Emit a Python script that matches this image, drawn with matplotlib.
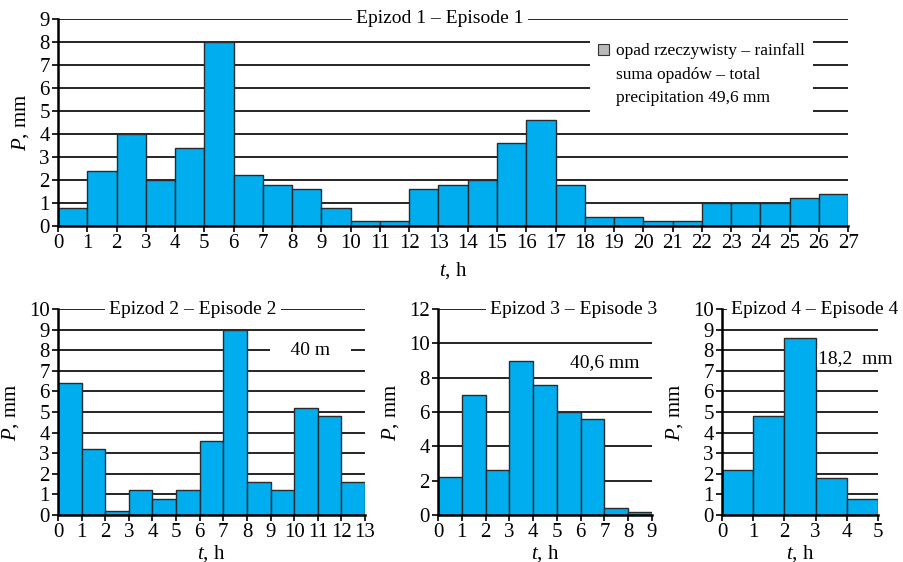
import matplotlib
matplotlib.use("Agg")
import matplotlib.pyplot as plt
from matplotlib.patches import Patch

plt.rcParams["font.family"] = ["Liberation Serif", "DejaVu Serif"]
plt.rcParams["mathtext.fontset"] = "custom"
plt.rcParams["mathtext.rm"] = "Liberation Serif"
plt.rcParams["mathtext.it"] = "Liberation Serif:italic"

# rainfall per hour, mm
ep1 = [0.8, 2.4, 4.0, 2.0, 3.4, 8.0, 2.2, 1.8, 1.6, 0.8, 0.2, 0.2, 1.6, 1.8,
       2.0, 3.6, 4.6, 1.8, 0.4, 0.4, 0.2, 0.2, 1.0, 1.0, 1.0, 1.2, 1.4]
ep2 = [6.4, 3.2, 0.2, 1.2, 0.8, 1.2, 3.6, 9.0, 1.6, 1.2, 5.2, 4.8, 1.6]
ep3 = [2.2, 7.0, 2.6, 9.0, 7.6, 6.0, 5.6, 0.4, 0.2]
ep4 = [2.2, 4.8, 8.6, 1.8, 0.8]

titles = ["Epizod 1 – Episode 1", "Epizod 2 – Episode 2",
          "Epizod 3 – Episode 3", "Epizod 4 – Episode 4"]
totals = ["precipitation 49,6 mm", "    40 m    ", "40,6 mm", "18,2  mm"]

BLUE = "#00aeef"
FS = 14
TICK_FS = 15

fig = plt.figure(figsize=(9.04, 5.62), dpi=100)


def panel(rect, values, ymax, ystep, title, title_x):
    ax = fig.add_axes(rect)
    n = len(values)
    ax.bar(range(n), values, width=1.0, align="edge", color=BLUE,
           edgecolor="#2a2a2a", linewidth=1.0, zorder=2)
    ax.set_xlim(0, n)
    ax.set_ylim(0, ymax)
    ax.set_xticks(range(n + 1))
    ax.set_yticks(range(0, ymax + 1, ystep))
    ax.set_axisbelow(True)
    ax.yaxis.grid(True, color="black", linewidth=1.2)
    for s in ("top", "right"):
        ax.spines[s].set_visible(False)
    for s in ("left", "bottom"):
        ax.spines[s].set_linewidth(1.8)
        ax.spines[s].set_zorder(3)
    ax.tick_params(axis="both", labelsize=TICK_FS, length=4, width=1.2)
    ax.tick_params(axis="x", pad=2)
    ax.tick_params(axis="y", pad=2)
    ax.set_ylabel(r"$\it{P}$, mm", fontsize=15, labelpad=6)
    ax.set_xlabel(r"$\it{t}$, h", fontsize=15, labelpad=0)
    ax.text(title_x, ymax, title, transform=ax.get_yaxis_transform(), fontsize=FS,
            ha="center", va="center", zorder=4,
            bbox=dict(facecolor="white", edgecolor="none", pad=3))
    return ax


ax1 = panel([0.0642, 0.5979, 0.8740, 0.3683], ep1, 9, 1, titles[0], 0.4835)
ax1.xaxis.set_label_coords(0.5, -0.165)
handles = [Patch(facecolor="#b8b8b8", edgecolor="#333333", linewidth=0.8),
           Patch(facecolor="none", edgecolor="none"),
           Patch(facecolor="none", edgecolor="none")]
labels = ["opad rzeczywisty – rainfall", "suma opadów – total", totals[0]]
leg = ax1.legend(handles, labels, loc="upper left", bbox_to_anchor=(0.662, 0.966),
                 fontsize=12.5, frameon=True, fancybox=False, framealpha=1,
                 edgecolor="none", handlelength=0.6, handleheight=0.6,
                 handletextpad=0.4, labelspacing=0.42, borderpad=0.5)
leg.set_zorder(4)

ax2 = panel([0.0642, 0.0836, 0.3396, 0.3664], ep2, 10, 1, titles[1], 0.44)
ax2.text(10.7, 8, totals[1], fontsize=FS, ha="center", va="center", zorder=4,
         bbox=dict(facecolor="white", edgecolor="none", pad=1))

ax3 = panel([0.4845, 0.0836, 0.2367, 0.3664], ep3, 12, 2, titles[2], 0.636)
ax3.text(7.02, 8.9, totals[2], fontsize=FS, ha="center", va="center", zorder=4)

ax4 = panel([0.7987, 0.0836, 0.1726, 0.3664], ep4, 10, 1, titles[3], 0.596)
ax4.text(4.26, 7.62, totals[3], fontsize=FS, ha="center", va="center", zorder=4,
         bbox=dict(facecolor="white", edgecolor="none", pad=0.5))

for ax in (ax2, ax3, ax4):
    ax.xaxis.set_label_coords(0.5, -0.135)

fig.savefig("out.png", dpi=100)
